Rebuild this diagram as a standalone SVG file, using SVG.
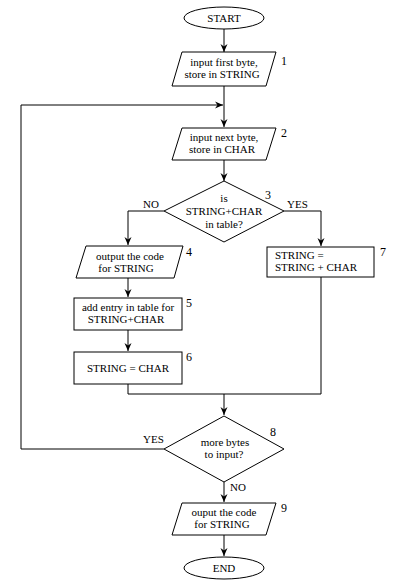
<svg xmlns="http://www.w3.org/2000/svg" width="400" height="587" viewBox="0 0 400 587">
<defs>
<marker id="ah" viewBox="0 0 8 8" refX="8" refY="4" markerWidth="8" markerHeight="8" markerUnits="userSpaceOnUse" orient="auto">
<path d="M0,0.5 L8,4 L0,7.5 L2.5,4 Z" fill="#000"/>
</marker>
<style>
.s{fill:#fff;stroke:#000;stroke-width:1}
.c{fill:none;stroke:#000;stroke-width:1}
text{font-family:"Liberation Serif","Times New Roman",serif;font-size:11px;fill:#000}
.m{text-anchor:middle}
.n{font-size:12px}
</style>
</defs>
<rect width="400" height="587" fill="#fff"/>
<g id="connectors">
<path class="c" d="M224,29 V52" marker-end="url(#ah)"/>
<path class="c" d="M224,86 V127" marker-end="url(#ah)"/>
<path class="c" d="M164,449 H21 V105 H223" marker-end="url(#ah)"/>
<path class="c" d="M224,160 V181" marker-end="url(#ah)"/>
<path class="c" d="M164,211 H128 V245" marker-end="url(#ah)"/>
<path class="c" d="M284,211 H321 V246" marker-end="url(#ah)"/>
<path class="c" d="M128,278 V297" marker-end="url(#ah)"/>
<path class="c" d="M128,330 V351" marker-end="url(#ah)"/>
<path class="c" d="M128,384 V394 H321 V277"/>
<path class="c" d="M224,394 V415" marker-end="url(#ah)"/>
<path class="c" d="M224,482 V502" marker-end="url(#ah)"/>
<path class="c" d="M224,535 V556" marker-end="url(#ah)"/>
<text x="143" y="208">NO</text>
<text x="287" y="208">YES</text>
<text x="143" y="443">YES</text>
<text x="230" y="491">NO</text>
</g>
<g id="start">
<ellipse class="s" cx="224" cy="18" rx="40" ry="11"/>
<text class="m" x="224" y="22">START</text>
</g>
<g id="n1">
<path class="s" d="M182,52 H276 L266,86 H172 Z"/>
<text class="m" x="224" y="66">input first byte,</text>
<text class="m" x="222" y="78">store in STRING</text>
<text class="n" x="281" y="65">1</text>
</g>
<g id="n2">
<path class="s" d="M182,128 H276 L266,160 H172 Z"/>
<text class="m" x="224" y="141">input next byte,</text>
<text class="m" x="222" y="153">store in CHAR</text>
<text class="n" x="281" y="137">2</text>
</g>
<g id="n3">
<path class="s" d="M224,181 L284,211 L224,242 L164,211 Z"/>
<text class="m" x="224" y="202">is</text>
<text class="m" x="224" y="215">STRING+CHAR</text>
<text class="m" x="224" y="228">in table?</text>
<text class="n" x="265" y="199">3</text>
</g>
<g id="n4">
<path class="s" d="M86,246 H183 L174,278 H76 Z"/>
<text class="m" x="130" y="260">output the code</text>
<text class="m" x="126" y="272">for STRING</text>
<text class="n" x="186" y="256">4</text>
</g>
<g id="n7">
<rect class="s" x="267" y="247" width="107" height="30"/>
<text x="275" y="259">STRING =</text>
<text x="275" y="271">STRING + CHAR</text>
<text class="n" x="380" y="256">7</text>
</g>
<g id="n5">
<rect class="s" x="74" y="298" width="108" height="32"/>
<text class="m" x="128" y="311">add entry in table for</text>
<text class="m" x="126" y="323">STRING+CHAR</text>
<text class="n" x="186" y="307">5</text>
</g>
<g id="n6">
<rect class="s" x="74" y="352" width="108" height="32"/>
<text class="m" x="128" y="372">STRING = CHAR</text>
<text class="n" x="186" y="361">6</text>
</g>
<g id="n8">
<path class="s" d="M224,416 L284,449 L224,482 L164,449 Z"/>
<text class="m" x="225" y="446">more bytes</text>
<text class="m" x="224" y="458">to input?</text>
<text class="n" x="270" y="436">8</text>
</g>
<g id="n9">
<path class="s" d="M182,503 H276 L266,535 H172 Z"/>
<text class="m" x="224" y="516">ouput the code</text>
<text class="m" x="222" y="528">for STRING</text>
<text class="n" x="281" y="512">9</text>
</g>
<g id="end">
<ellipse class="s" cx="224" cy="568" rx="40" ry="11"/>
<text class="m" x="224" y="572">END</text>
</g>
</svg>
